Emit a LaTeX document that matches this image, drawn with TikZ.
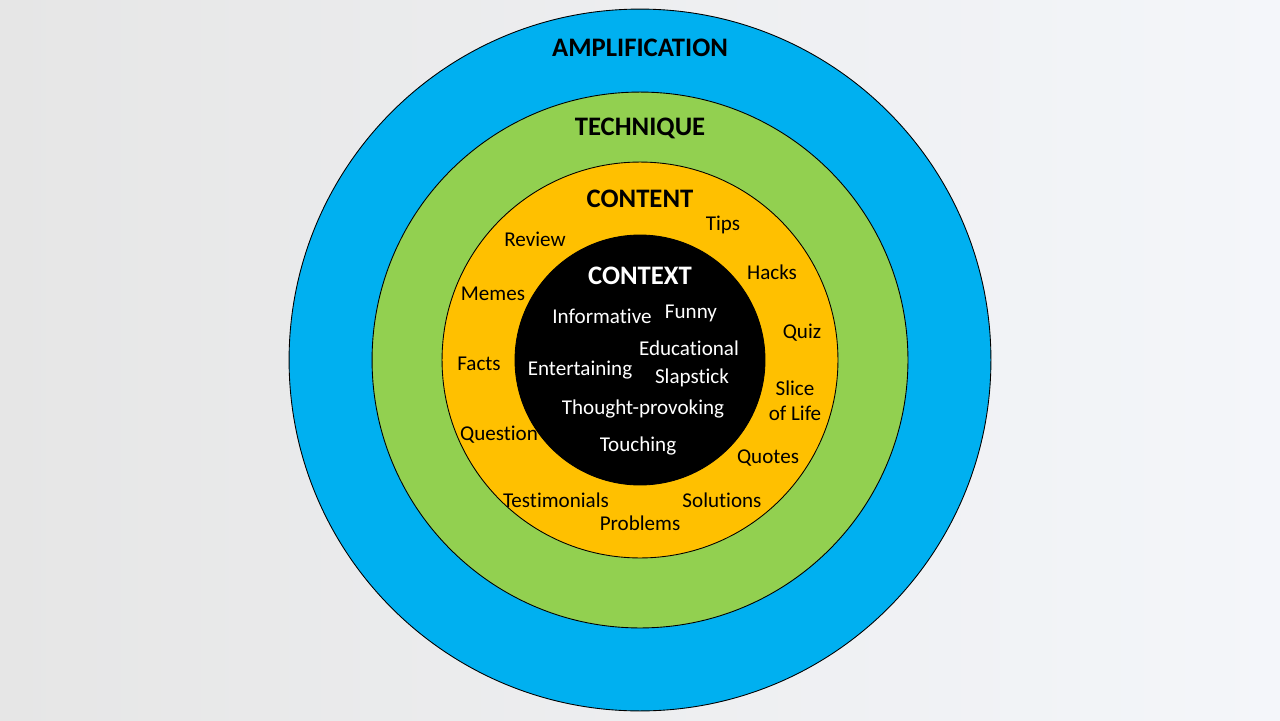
\documentclass[tikz,border=0pt]{standalone}
\usepackage{fontspec}
\setmainfont{Carlito}[Ligatures=NoCommon]
\usepackage{xcolor}
\usepackage{tikz}

\definecolor{ampblue}{HTML}{00B0F0}
\definecolor{techgreen}{HTML}{92D050}
\definecolor{contyellow}{HTML}{FFC000}
\definecolor{bgleft}{HTML}{E6E6E6}
\definecolor{bgright}{HTML}{F4F6FA}

\begin{document}
\begin{tikzpicture}[x=0.02cm, y=-0.02cm,
  ring/.style={circle, draw=black, line width=0.5pt, inner sep=0pt},
  title/.style={font=\fontsize{15.2}{18}\selectfont\bfseries, inner sep=0pt},
  tag/.style={font=\fontsize{12}{14.2}\selectfont, inner sep=0pt, align=center}]
\shade[left color=bgleft, right color=bgright] (0,0) rectangle (1280,720);
\useasboundingbox (0,0) rectangle (1280,720);

\node[ring, fill=ampblue, minimum size=14.04cm] (amp) at (640,360) {};
\node[ring, fill=techgreen, minimum size=10.72cm] (tech) at (640,360) {};
\node[ring, fill=contyellow, minimum size=7.92cm] (cont) at (640,360) {};
\node[ring, fill=black, minimum size=5.0cm] (ctx) at (640,360) {};

\node[title] (ampt) at (640,48) {AMPLIFICATION};
\node[title] (techt) at (640,128) {TECHNIQUE};
\node[title] (contt) at (640,199) {CONTENT};
\node[title, text=white] (ctxt) at (640,276) {CONTEXT};

% content ring
\node[tag] (tips) at (723,225) {Tips};
\node[tag] (review) at (535,239) {Review};
\node[tag] (hacks) at (772,272) {Hacks};
\node[tag] (memes) at (493,294) {Memes};
\node[tag] (quiz) at (802,333) {Quiz};
\node[tag] (facts) at (479,364) {Facts};
\node[tag] (slice) at (795,401) {Slice\\of Life};
\node[tag] (question) at (499,435) {Question};
\node[tag] (quotes) at (768,458) {Quotes};
\node[tag] (testim) at (556,500) {Testimonials};
\node[tag] (solutions) at (722,500) {Solutions};
\node[tag] (problems) at (640,523) {Problems};

% context core
\node[tag, text=white] (inform) at (602,316) {Informative};
\node[tag, text=white] (funny) at (691,313) {Funny};
\node[tag, text=white] (educ) at (689,348) {Educational};
\node[tag, text=white] (entert) at (580,370) {Entertaining};
\node[tag, text=white] (slap) at (692,378) {Slapstick};
\node[tag, text=white] (thought) at (643,409) {Thought-provoking};
\node[tag, text=white] (touch) at (638,446) {Touching};
\end{tikzpicture}
\end{document}
